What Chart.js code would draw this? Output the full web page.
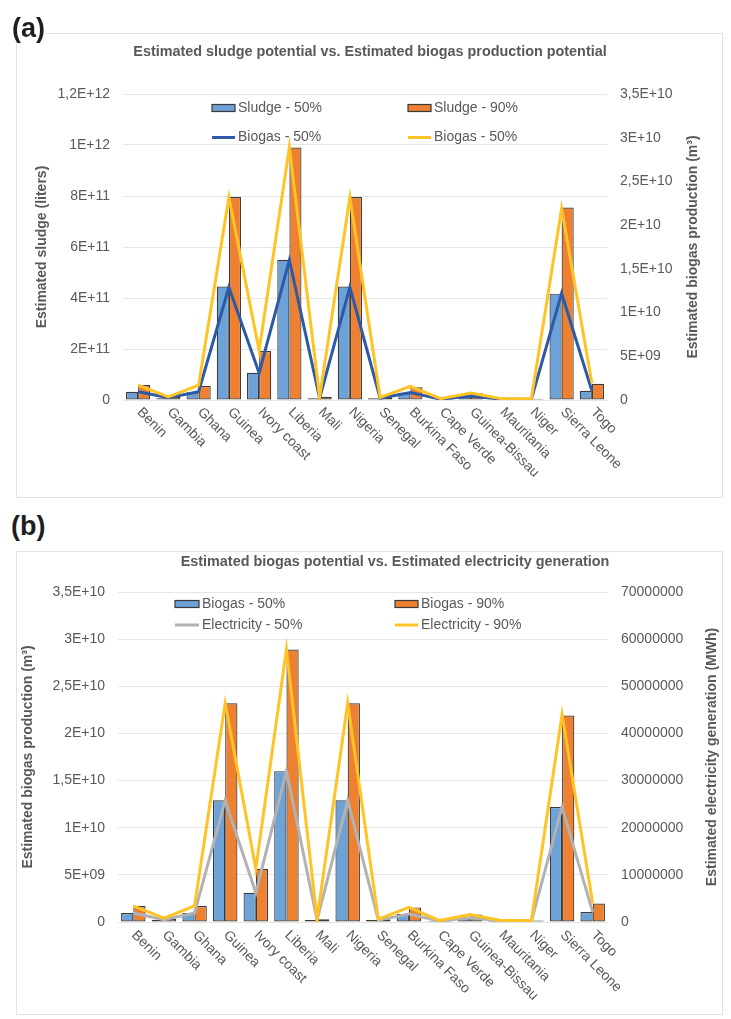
<!DOCTYPE html>
<html>
<head>
<meta charset="utf-8">
<script src="https://cdn.jsdelivr.net/npm/chart.js@4.4.1/dist/chart.umd.min.js"></script>
<style>
html,body{margin:0;padding:0;background:#fff;width:731px;height:1019px;overflow:hidden;font-family:'Liberation Sans',Arial,sans-serif}
.frame{position:absolute;border:1px solid #e2e2e2;box-sizing:border-box;pointer-events:none}
.lbl{position:absolute;font-weight:bold;font-size:27px;line-height:27px;color:#1e1e1e;background:#fff;padding-right:1px;z-index:5}
canvas{position:absolute}
</style>
</head>
<body>
<div class="frame" style="left:16px;top:33px;width:707px;height:465px"></div>
<canvas id="ca" width="706" height="464" style="left:16px;top:33px"></canvas>
<div class="lbl" style="left:12px;top:15px">(a)</div>

<div class="frame" style="left:16px;top:551px;width:707px;height:464px"></div>
<canvas id="cb" width="706" height="462" style="left:16px;top:552px"></canvas>
<div class="lbl" style="left:11px;top:513px">(b)</div>

<script>
// ---------------- DATA ----------------
const categories = ['Benin','Gambia','Ghana','Guinea','Ivory coast','Liberia','Mali','Nigeria','Senegal','Burkina Faso','Cape Verde','Guinea-Bissau','Mauritania','Niger','Sierra Leone','Togo'];

// Estimated sludge (liters)
const sludge50 = [3.2e10, 7e9, 3.0e10, 4.45e11, 1.07e11, 5.5e11, 7e9, 4.45e11, 7e9, 2.8e10, 3e9, 1.4e10, 3e9, 3e9, 4.17e11, 3.6e10];
const sludge90 = [5.9e10, 1.3e10, 5.5e10, 7.96e11, 1.92e11, 9.9e11, 1.3e10, 7.96e11, 1.2e10, 5.0e10, 5e9, 2.6e10, 5e9, 5e9, 7.55e11, 6.4e10];

// Estimated biogas production (m3)
const biogas50 = [9.5e8, 2.5e8, 9.5e8, 1.29e10, 3.1e9, 1.6e10, 2e8, 1.29e10, 2e8, 8.5e8, 1e8, 4.5e8, 1e8, 1e8, 1.22e10, 1.06e9];
const biogas90 = [1.7e9, 3.5e8, 1.7e9, 2.32e10, 5.65e9, 2.89e10, 3e8, 2.32e10, 3e8, 1.55e9, 1.5e8, 8e8, 1.5e8, 1.5e8, 2.19e10, 1.95e9];

// Estimated electricity generation (MWh)
const electricity50 = [1.9e6, 5e5, 1.9e6, 2.58e7, 6.2e6, 3.2e7, 4e5, 2.58e7, 4e5, 1.7e6, 2e5, 9e5, 2e5, 2e5, 2.44e7, 2.1e6];
const electricity90 = [3.4e6, 8e5, 3.4e6, 4.64e7, 1.13e7, 5.78e7, 6e5, 4.64e7, 6e5, 3.1e6, 3e5, 1.6e6, 3e5, 3e5, 4.4e7, 3.9e6];

// Tick labels
const sludgeTicks = ['0','2E+11','4E+11','6E+11','8E+11','1E+12','1,2E+12'];
const biogasTicks = ['0','5E+09','1E+10','1,5E+10','2E+10','2,5E+10','3E+10','3,5E+10'];
const electricityTicks = ['0','10000000','20000000','30000000','40000000','50000000','60000000','70000000'];

// ---------------- STYLE ----------------
const FONT = "'Liberation Sans', Arial, sans-serif";
const TXT = '#595959';
const BLUE_BAR = '#6CA2D8';
const ORANGE_BAR = '#EE8131';
const BAR_EDGE = '#3a3a3a';
const BLUE_LINE = '#2C5AA6';
const YELLOW_LINE = '#FFC325';
const GRAY_LINE = '#B2B2B2';
const GRID = '#e6e6e6';

Chart.defaults.font.family = FONT;
Chart.defaults.color = TXT;

function overlay(cfg) {
  return {
    id: 'overlay_' + cfg.id,
    afterDraw(chart) {
      const {ctx, chartArea, scales} = chart;
      ctx.save();
      ctx.fillStyle = TXT;
      // chart title
      ctx.font = 'bold 14.4px ' + FONT;
      ctx.textAlign = 'center';
      ctx.textBaseline = 'middle';
      ctx.fillText(cfg.title, cfg.titleX, cfg.titleY);
      // right axis title (reads bottom-to-top)
      ctx.save();
      ctx.translate(cfg.rTitleX, (chartArea.top + chartArea.bottom) / 2);
      ctx.rotate(-Math.PI / 2);
      ctx.font = 'bold 14px ' + FONT;
      ctx.fillText(cfg.rTitle, 0, 0);
      ctx.restore();
      // category labels rotated clockwise
      const xs = scales.x;
      ctx.font = '14px ' + FONT;
      ctx.textAlign = 'left';
      ctx.textBaseline = 'middle';
      chart.data.labels.forEach((lab, i) => {
        const px = xs.getPixelForValue(i);
        ctx.save();
        ctx.translate(px + cfg.lblDx, chartArea.bottom + cfg.lblDy);
        ctx.rotate(Math.PI / 4);
        ctx.fillText(lab, 0, 0);
        ctx.restore();
      });
      // legend
      cfg.legend.forEach(item => {
        const ds = chart.data.datasets[item.ds];
        if (item.kind === 'box') {
          ctx.fillStyle = ds.backgroundColor;
          ctx.fillRect(item.x, item.y - 3.5, item.w, 7);
          ctx.strokeStyle = ds.borderColor;
          ctx.lineWidth = 1.2;
          ctx.strokeRect(item.x, item.y - 3.5, item.w, 7);
        } else {
          ctx.strokeStyle = ds.borderColor;
          ctx.lineWidth = 3;
          ctx.beginPath();
          ctx.moveTo(item.x, item.y);
          ctx.lineTo(item.x + item.w, item.y);
          ctx.stroke();
        }
        ctx.fillStyle = TXT;
        ctx.font = '14px ' + FONT;
        ctx.textAlign = 'left';
        ctx.textBaseline = 'middle';
        ctx.fillText(ds.label, item.x + item.w + 3, item.y);
      });
      ctx.restore();
    }
  };
}

function barSet(label, data, color) {
  return {label, data, backgroundColor: color, borderColor: BAR_EDGE, borderWidth: 1.2,
    borderSkipped: false, yAxisID: 'y', order: 2, categoryPercentage: 0.8, barPercentage: 1.0};
}
function lineSet(label, data, color, order) {
  return {type: 'line', label, data, borderColor: color, backgroundColor: color, borderWidth: 3,
    pointRadius: 0, pointHoverRadius: 0, tension: 0, fill: false, yAxisID: 'y1', order};
}

function makeChart(id, o) {
  new Chart(document.getElementById(id), {
    type: 'bar',
    data: {labels: categories, datasets: o.datasets},
    options: {
      responsive: false,
      animation: false,
      layout: {padding: {top: o.top, left: 0, right: 0, bottom: 0}},
      plugins: {legend: {display: false}, title: {display: false}, tooltip: {enabled: false}},
      scales: {
        x: {
          offset: true,
          grid: {display: false},
          border: {display: false},
          ticks: {display: false},
          afterFit: s => { s.height = o.xHeight; }
        },
        y: {
          position: 'left', min: 0, max: o.yMax,
          ticks: {stepSize: o.yStep, callback: (v, i) => o.yTicks[i], color: TXT, font: {size: 14}, padding: 13},
          grid: {color: GRID, lineWidth: 1, drawTicks: false},
          border: {display: false},
          title: {display: true, text: o.yTitle, color: TXT, font: {size: 14, weight: 'bold'}, padding: {top: o.yTitlePad, bottom: 0}},
          afterFit: s => { s.width = o.leftW; }
        },
        y1: {
          position: 'right', min: 0, max: o.y1Max,
          ticks: {stepSize: o.y1Step, callback: (v, i) => o.y1Ticks[i], color: TXT, font: {size: 14}, padding: 13},
          grid: {display: false, drawTicks: false},
          border: {display: false},
          afterFit: s => { s.width = o.rightW; }
        }
      }
    },
    plugins: [overlay(o.overlay)]
  });
}

// ---------------- (a) ----------------
makeChart('ca', {
  datasets: [
    barSet('Sludge - 50%', sludge50, BLUE_BAR),
    barSet('Sludge - 90%', sludge90, ORANGE_BAR),
    lineSet('Biogas - 50%', biogas50, BLUE_LINE, 1),
    lineSet('Biogas - 50%', biogas90, YELLOW_LINE, 0)
  ],
  top: 61, xHeight: 97, leftW: 107, rightW: 115,
  yMax: 1.2e12, yStep: 2e11, yTicks: sludgeTicks, yTitle: 'Estimated sludge (liters)', yTitlePad: 18,
  y1Max: 3.5e10, y1Step: 5e9, y1Ticks: biogasTicks,
  overlay: {
    id: 'a',
    title: 'Estimated sludge potential vs. Estimated biogas production potential',
    titleX: 354, titleY: 19,
    rTitle: 'Estimated biogas production (m³)', rTitleX: 677,
    lblDx: 1, lblDy: 10,
    legend: [
      {ds: 0, kind: 'box', x: 196, y: 75, w: 23},
      {ds: 1, kind: 'box', x: 392, y: 75, w: 23},
      {ds: 2, kind: 'line', x: 196, y: 104.5, w: 23},
      {ds: 3, kind: 'line', x: 392, y: 104.5, w: 23}
    ]
  }
});

// ---------------- (b) ----------------
makeChart('cb', {
  datasets: [
    barSet('Biogas - 50%', biogas50, BLUE_BAR),
    barSet('Biogas - 90%', biogas90, ORANGE_BAR),
    lineSet('Electricity - 50%', electricity50, GRAY_LINE, 1),
    lineSet('Electricity - 90%', electricity90, YELLOW_LINE, 0)
  ],
  top: 40, xHeight: 92, leftW: 102, rightW: 114,
  yMax: 3.5e10, yStep: 5e9, yTicks: biogasTicks, yTitle: 'Estimated biogas production (m³)', yTitlePad: 3.5,
  y1Max: 7e7, y1Step: 1e7, y1Ticks: electricityTicks,
  overlay: {
    id: 'b',
    title: 'Estimated biogas potential vs. Estimated electricity generation',
    titleX: 379, titleY: 10,
    rTitle: 'Estimated electricity generation (MWh)', rTitleX: 696,
    lblDx: 0.5, lblDy: 11,
    legend: [
      {ds: 0, kind: 'box', x: 159, y: 52, w: 24},
      {ds: 1, kind: 'box', x: 379, y: 52, w: 23},
      {ds: 2, kind: 'line', x: 159, y: 73, w: 24},
      {ds: 3, kind: 'line', x: 379, y: 73, w: 23}
    ]
  }
});
</script>
</body>
</html>
